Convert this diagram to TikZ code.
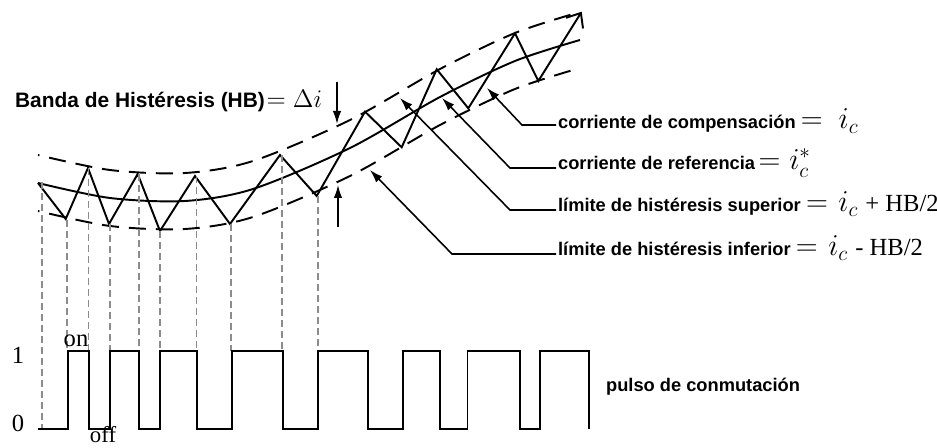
\documentclass[tikz,border=0pt]{standalone}
\usepackage{fontspec}
\setmainfont{Liberation Sans}
\newfontfamily\tms{Liberation Serif}
\usetikzlibrary{arrows.meta}
\newcommand{\lblfont}{\fontsize{10.4pt}{12.5pt}\selectfont\bfseries}
\newcommand{\hbfont}{\fontsize{11.9pt}{14pt}\selectfont\bfseries}
\tikzset{
  >={Latex[length=2.6mm,width=1.7mm]},
  wave/.style={line width=1.1pt,line join=miter},
  band/.style={line width=1.1pt,dash pattern=on 3.4mm off 2mm,dash phase=3.1mm},
  guide/.style={draw=black!45,line width=1.1pt,dash pattern=on 1.4mm off 0.8mm},
  lead/.style={->,line width=0.9pt},
  lbl/.style={font=\lblfont,anchor=base west,inner xsep=1pt,inner ysep=0pt},
  lvl/.style={font=\tms\fontsize{14}{16}\selectfont,anchor=base,inner sep=0pt},
}
\newcommand{\lblm}[1]{{\fontsize{18pt}{20pt}\selectfont$#1$}}
\newcommand{\hbtxt}[1]{{\tms\fontsize{14pt}{16pt}\selectfont\mdseries #1}}
\newcommand{\refcurve}{plot[smooth] coordinates {(38,183) (110,198) (185,201) (253,189) (350,148) (440,97) (515,61) (580,40)}}

\begin{document}
\begin{tikzpicture}[x=0.02cm,y=-0.02cm]
  \useasboundingbox (0,0) rectangle (937,448);
  % reference current and hysteresis band
  \draw[wave] \refcurve;
  \draw[band,yshift=0.56cm] \refcurve;
  \draw[band,yshift=-0.56cm] \refcurve;
  % compensation current
  \draw[wave,-{Straight Barb[length=2.4mm,width=4mm]}] (38,183) -- (65.7,219) -- (88,168) -- (109,224) -- (137.7,174)
    -- (160,231) -- (195,176) -- (230,224) -- (280,155) -- (316.7,196) -- (365,111.7) -- (401.7,147.3)
    -- (436.7,69.3) -- (468.3,108.3) -- (515,33.3) -- (538.3,81) -- (581.7,11.7);
  % switching instants
  \draw[guide] (42,182) -- (42,429);
  \foreach \x/\y in {67/220,88.5/168,110/224,139/174,160/231,196.5/176,231/224,282/155,318/196}
    \draw[guide] (\x,\y) -- (\x,351);
  % switching pulse
  \draw[wave] (38.3,429) \foreach \a/\b in {68.3/89.3,110/139.3,160/196.7,231.7/282.7,318.3/368.3,403.3/440,467.5/520,540/589.3}
    { -- (\a,429) -- (\a,351) -- (\b,351) -- (\b,429) };
  \node[lvl] (one) at (18,364) {1};
  \node[lvl] (zero) at (18,432) {0};
  \node[lvl] (on) at (76,347) {on};
  \node[lvl,font=\tms\fontsize{13}{15}\selectfont] (off) at (103,443) {off};
  \node[lbl] (pulse) at (604,391.7) {pulso de conmutación};
  % band width
  \node[lbl,font=\hbfont] (hb) at (13,108) {Banda de Histéresis (HB)\hspace{1pt}{\fontsize{13.5pt}{15pt}\selectfont$=\Delta i$}};
  \coordinate (dTop) at (337,82);  \coordinate (dTip) at (337,124);
  \coordinate (uBot) at (338,227); \coordinate (uTip) at (338,185);
  \draw[lead] (dTop) -- (dTip);
  \draw[lead] (uBot) -- (uTip);
  % labels
  \node[lbl] (comp) at (556,128.5) {corriente de compensación\hspace{3pt}\lblm{=}\hspace{9pt}\lblm{i_c}};
  \node[lbl] (refl) at (556,170) {corriente de referencia\hspace{2pt}\lblm{=}\hspace{5pt}\lblm{i_c^*}};
  \node[lbl] (sup) at (556,211.7) {límite de histéresis superior\hspace{3pt}\lblm{=}\hspace{6pt}\lblm{i_c}\hspace{4pt}\hbtxt{+ HB/2}};
  \node[lbl] (inf) at (556,256) {límite de histéresis inferior\hspace{3pt}\lblm{=}\hspace{6pt}\lblm{i_c}\hspace{4pt}\hbtxt{- HB/2}};
  \coordinate (compTip) at (487,88);  \coordinate (compKnee) at (522,125);
  \coordinate (refTip) at (442,98);   \coordinate (refKnee) at (510,168);
  \coordinate (supTip) at (400,98);   \coordinate (supKnee) at (510,210);
  \coordinate (infTip) at (370,170);  \coordinate (infKnee) at (452,254);
  \draw[lead] (comp.west |- compKnee) -- (compKnee) -- (compTip);
  \draw[lead] (refl.west |- refKnee) -- (refKnee) -- (refTip);
  \draw[lead] (sup.west |- supKnee) -- (supKnee) -- (supTip);
  \draw[lead] (inf.west |- infKnee) -- (infKnee) -- (infTip);
\end{tikzpicture}
\end{document}
